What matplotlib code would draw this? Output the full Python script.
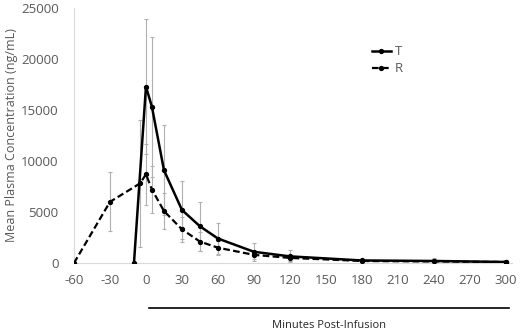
import matplotlib.pyplot as plt
import matplotlib.transforms as mtransforms

# donnees
minutes_T = [-10, 0, 5, 15, 30, 45, 60, 90, 120, 180, 240, 300]
conc_T = [0, 17300, 15300, 9100, 5200, 3600, 2400, 1100, 650, 250, 200, 100]
err_T = [0, 6600, 6900, 4400, 2800, 2400, 1500, 900, 600, 150, 300, 50]

minutes_R = [-60, -30, -5, 0, 5, 15, 30, 45, 60, 90, 120, 180, 240, 300]
conc_R = [0, 6000, 7800, 8700, 7200, 5100, 3300, 2100, 1500, 800, 500, 200, 150, 100]
err_R = [0, 2900, 6200, 3000, 2300, 1800, 1200, 900, 700, 400, 300, 100, 100, 50]

xticks = [-60, -30, 0, 30, 60, 90, 120, 150, 180, 210, 240, 270, 300]
yticks = [0, 5000, 10000, 15000, 20000, 25000]

plt.rcParams['font.family'] = ['Open Sans', 'DejaVu Sans']
plt.rcParams['axes.unicode_minus'] = False

fig = plt.figure(figsize=(5.2, 3.35), dpi=100)
ax = fig.add_axes([0.1423, 0.2149, 0.842, 0.761])

gris = '#595959'

ax.errorbar(minutes_T, conc_T, yerr=err_T, fmt='none', ecolor='#b0b0b0',
            elinewidth=0.8, capsize=1.5, capthick=0.8, zorder=1)
ax.errorbar(minutes_R, conc_R, yerr=err_R, fmt='none', ecolor='#b0b0b0',
            elinewidth=0.8, capsize=1.5, capthick=0.8, zorder=1)

ax.plot(minutes_T, conc_T, color='black', linewidth=1.8, marker='o',
        markersize=2.8, label='T', zorder=3)
ax.plot(minutes_R, conc_R, color='black', linewidth=1.6, linestyle=(0, (3, 1.5)),
        marker='o', markersize=2.8, label='R', zorder=3)

ax.set_xlim(-60, 305)
ax.set_ylim(0, 25000)
ax.set_xticks(xticks)
ax.set_yticks(yticks)
ax.tick_params(length=0, labelsize=9.5, labelcolor=gris, pad=8)
ax.tick_params(axis='y', pad=11)

for s in ['top', 'right']:
    ax.spines[s].set_visible(False)
ax.spines['left'].set_color('#d9d9d9')
ax.spines['bottom'].set_color('#d9d9d9')

ax.set_ylabel('Mean Plasma Concentration (ng/mL)', fontsize=9, color=gris, labelpad=2)

# trait noir sous l'axe (periode post-perfusion)
trans = mtransforms.blended_transform_factory(ax.transData, fig.transFigure)
ax.plot([2.5, 303], [1 - 308 / 335, 1 - 308 / 335], color='black', linewidth=1.2,
        transform=trans, clip_on=False)
fig.text(272 / 520, 1 - 326 / 335, 'Minutes Post-Infusion', fontsize=8,
         color='#262626', va='center', ha='left')

leg = ax.legend(loc='upper left', bbox_to_anchor=(0.653, 0.9), frameon=False,
                handlelength=1.45, handletextpad=0.3, labelspacing=0.3, fontsize=9.5)
for t in leg.get_texts():
    t.set_color(gris)

fig.savefig('out.png', dpi=100)
